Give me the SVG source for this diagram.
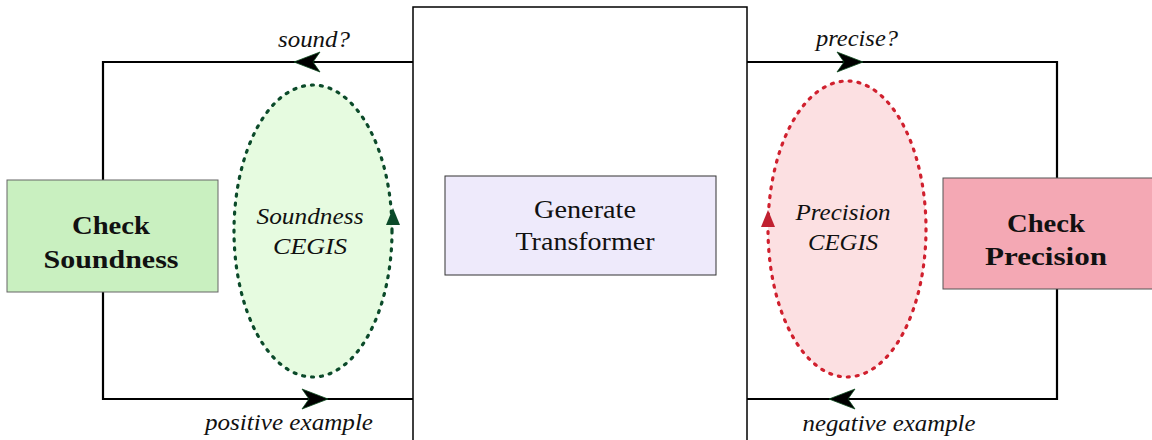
<svg xmlns="http://www.w3.org/2000/svg" width="1152" height="440" viewBox="0 0 1152 440">
<style>
.line{fill:none;stroke:#000;stroke-width:2.2}
.arr{fill:#000;stroke:#0c4a1e;stroke-width:0.8;stroke-linejoin:miter}
.dots{stroke-width:3.2;stroke-dasharray:2 7;stroke-linecap:round}
text{font-family:'Liberation Serif','DejaVu Serif','Times New Roman',serif;fill:#111;text-anchor:middle}
.lbl{font-style:italic;font-size:24px}
.node{font-size:25px}
.bold{font-weight:bold}
</style>
<rect width="1152" height="440" fill="#fff"/>
<g id="connectors">
<polyline class="line" points="413,62 103,62 103,180"/>
<polyline class="line" points="103,292 103,399 413,399"/>
<polyline class="line" points="747,62 1057,62 1057,178"/>
<polyline class="line" points="1057,289 1057,399 747,399"/>
<path class="arr" d="M294,62 L320,52 L313,62 L320,72 Z"/>
<path class="arr" d="M328,399 L302,389 L309,399 L302,409 Z"/>
<path class="arr" d="M863,62 L837,52 L844,62 L837,72 Z"/>
<path class="arr" d="M829,399 L855,389 L848,399 L855,409 Z"/>
<text class="lbl" x="314" y="47" textLength="72" lengthAdjust="spacingAndGlyphs">sound?</text>
<text class="lbl" x="857" y="46" textLength="82" lengthAdjust="spacingAndGlyphs">precise?</text>
<text class="lbl" x="289" y="430" textLength="168" lengthAdjust="spacingAndGlyphs">positive example</text>
<text class="lbl" x="889" y="431" textLength="173" lengthAdjust="spacingAndGlyphs">negative example</text>
</g>
<g id="soundness-cegis">
<ellipse class="dots" cx="313" cy="231" rx="79" ry="146" fill="#e6fbe0" stroke="#0b4a2a"/>
<path d="M393,208 L386,225 L400,225 Z" fill="#0b4a2a"/>
<text class="lbl" x="310" y="224" textLength="107" lengthAdjust="spacingAndGlyphs">Soundness</text>
<text class="lbl" x="310" y="254" textLength="74" lengthAdjust="spacingAndGlyphs">CEGIS</text>
</g>
<g id="precision-cegis">
<ellipse class="dots" cx="847" cy="229" rx="79" ry="148" fill="#fce0e2" stroke="#d0202e"/>
<path d="M768,210 L761,227 L775,227 Z" fill="#c02030"/>
<text class="lbl" x="843" y="220" textLength="95" lengthAdjust="spacingAndGlyphs">Precision</text>
<text class="lbl" x="843" y="250" textLength="70" lengthAdjust="spacingAndGlyphs">CEGIS</text>
</g>
<g id="center">
<rect x="413" y="7" width="334" height="440" fill="#fff" stroke="#000" stroke-width="1.5"/>
</g>
<g id="generate">
<rect x="445" y="176" width="271" height="99" fill="#eeeafb" stroke="#333" stroke-width="1"/>
<text class="node" x="585" y="218" textLength="102" lengthAdjust="spacingAndGlyphs">Generate</text>
<text class="node" x="585" y="250" textLength="139" lengthAdjust="spacingAndGlyphs">Transformer</text>
</g>
<g id="check-soundness">
<rect x="7" y="180" width="211" height="112" fill="#c9f0c0" stroke="#666" stroke-width="1"/>
<text class="node bold" x="111" y="234" textLength="78" lengthAdjust="spacingAndGlyphs">Check</text>
<text class="node bold" x="111" y="268" textLength="135" lengthAdjust="spacingAndGlyphs">Soundness</text>
</g>
<g id="check-precision">
<rect x="943" y="178" width="212" height="111" fill="#f4a8b4" stroke="#555" stroke-width="1"/>
<text class="node bold" x="1046" y="232" textLength="78" lengthAdjust="spacingAndGlyphs">Check</text>
<text class="node bold" x="1046" y="265" textLength="122" lengthAdjust="spacingAndGlyphs">Precision</text>
</g>
</svg>
